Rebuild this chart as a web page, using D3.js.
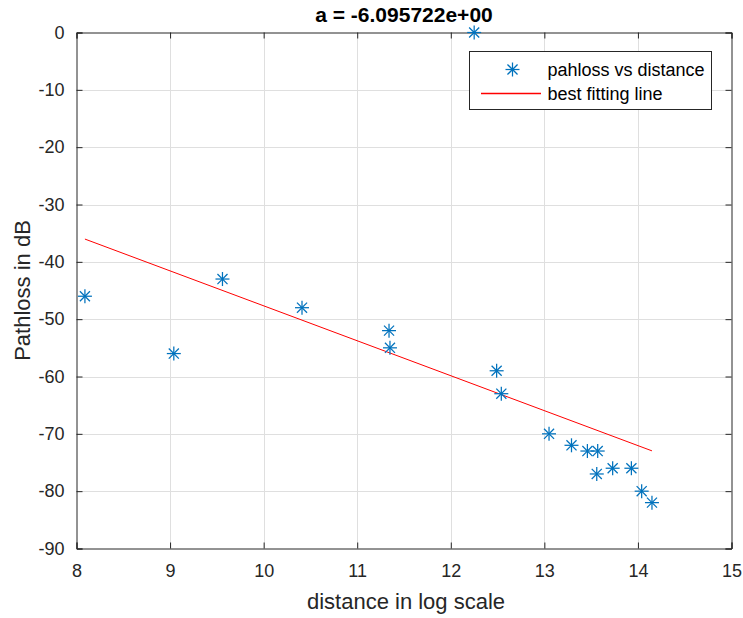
<!DOCTYPE html>
<html>
<head>
<meta charset="utf-8">
<script src="https://cdn.jsdelivr.net/npm/d3@7"></script>
<style>
  html, body { margin: 0; padding: 0; background: #ffffff; }
  svg { display: block; }
  text { font-family: "Liberation Sans", Arial, Helvetica, sans-serif; }
</style>
</head>
<body>
<svg id="chart" width="743" height="618"></svg>
<script>
// ---- data ----
const distance = [8.09, 9.04, 9.56, 10.41, 11.34, 11.35, 12.25, 12.49, 12.54, 13.05, 13.29, 13.46, 13.57, 13.56, 13.73, 13.93, 14.04, 14.15];
const pathloss = [-46, -56, -43, -48, -52, -55, 0, -59, -63, -70, -72, -73, -73, -77, -76, -76, -80, -82];
const slopeA = -6.095722;
const xTicks = [8, 9, 10, 11, 12, 13, 14, 15];
const yTicks = [0, -10, -20, -30, -40, -50, -60, -70, -80, -90];
const titleText = "a = -6.095722e+00";
const xLabel = "distance in log scale";
const yLabel = "Pathloss in dB";
const seriesNames = ["pahloss vs distance", "best fitting line"];

// intercept of the least-squares line with given slope (passes through means)
const meanX = d3.mean(distance), meanY = d3.mean(pathloss);
const interceptB = meanY - slopeA * meanX;
const fitX = [d3.min(distance), d3.max(distance)];
const fitY = fitX.map(x => slopeA * x + interceptB);

// ---- layout ----
const W = 743, H = 618;
const L = 76.5, R = 731.5, T = 32.5, B = 548.5;
const axisCol = "#262626", gridCol = "#dfdfdf", blue = "#0072BD", red = "#FF0000";

const svg = d3.select("#chart");
const x = d3.scaleLinear().domain([8, 15]).range([L, R]);
const y = d3.scaleLinear().domain([-90, 0]).range([B, T]);

// grid
const g = svg.append("g");
g.selectAll(".gx").data(xTicks.slice(1, -1)).join("line")
  .attr("x1", d => Math.round(x(d)) + 0.5).attr("x2", d => Math.round(x(d)) + 0.5)
  .attr("y1", T).attr("y2", B).attr("stroke", gridCol).attr("stroke-width", 1);
g.selectAll(".gy").data(yTicks.slice(1, -1)).join("line")
  .attr("y1", d => Math.round(y(d)) + 0.5).attr("y2", d => Math.round(y(d)) + 0.5)
  .attr("x1", L).attr("x2", R).attr("stroke", gridCol).attr("stroke-width", 1);

// axes (ticks inward, mirrored)
const tl = 6;
const axB = d3.axisBottom(x).tickValues(xTicks).tickSize(-tl).tickPadding(tl + 10).tickFormat(d3.format("d"));
const axL = d3.axisLeft(y).tickValues(yTicks).tickSize(-tl).tickPadding(tl + 6).tickFormat(d => d3.format("d")(d).replace("−", "-"));
const axT = d3.axisTop(x).tickValues(xTicks).tickSize(-tl).tickFormat("");
const axR = d3.axisRight(y).tickValues(yTicks).tickSize(-tl).tickFormat("");

function styleAxis(sel) {
  sel.select(".domain").attr("stroke", axisCol).attr("stroke-width", 1);
  sel.selectAll(".tick line").attr("stroke", axisCol).attr("stroke-width", 1);
  sel.selectAll(".tick text").attr("fill", axisCol).style("font-size", "18px")
    .style("font-family", "'Liberation Sans', Arial, sans-serif");
}
svg.append("g").attr("transform", `translate(0,${B})`).call(axB).call(styleAxis);
svg.append("g").attr("transform", `translate(${L},0)`).call(axL).call(styleAxis);
svg.append("g").attr("transform", `translate(0,${T})`).call(axT).call(styleAxis);
svg.append("g").attr("transform", `translate(${R},0)`).call(axR).call(styleAxis);

// fitted line
svg.append("path")
  .datum(fitX.map((d, i) => [d, fitY[i]]))
  .attr("d", d3.line().x(d => x(d[0])).y(d => y(d[1])))
  .attr("fill", "none").style("stroke", red).attr("stroke-width", 1);

// asterisk marker
function asterisk(sel, r) {
  const k = r * 0.72;
  sel.append("line").attr("x1", -r).attr("x2", r).attr("y1", 0).attr("y2", 0);
  sel.append("line").attr("x1", 0).attr("x2", 0).attr("y1", -r).attr("y2", r);
  sel.append("line").attr("x1", -k).attr("x2", k).attr("y1", -k).attr("y2", k);
  sel.append("line").attr("x1", -k).attr("x2", k).attr("y1", k).attr("y2", -k);
}
const pts = distance.map((d, i) => ({ x: d, y: pathloss[i] }));
svg.append("g").selectAll("g").data(pts).join("g")
  .attr("transform", d => `translate(${x(d.x)},${y(d.y)})`)
  .style("stroke", blue).attr("stroke-width", 1.25)
  .each(function () { asterisk(d3.select(this), 7); });

// title
svg.append("text").attr("x", (L + R) / 2 + 0).attr("y", 22)
  .attr("text-anchor", "middle").attr("fill", "#000")
  .style("font-size", "21px").style("font-weight", "bold").text(titleText);

// axis labels
svg.append("text").attr("x", (L + R) / 2 + 2).attr("y", 609)
  .attr("text-anchor", "middle").attr("fill", axisCol)
  .style("font-size", "22px").text(xLabel);
svg.append("text").attr("transform", `translate(30,${(T + B) / 2}) rotate(-90)`)
  .attr("text-anchor", "middle").attr("fill", axisCol)
  .style("font-size", "22px").text(yLabel);

// legend
const lg = svg.append("g");
lg.append("rect").attr("x", 469.5).attr("y", 51.5).attr("width", 242).attr("height", 58)
  .attr("fill", "#fff").style("stroke", axisCol).attr("stroke-width", 1);
const g1 = lg.append("g").attr("transform", "translate(512.5,69.5)")
  .style("stroke", blue).attr("stroke-width", 1.25);
asterisk(g1, 7);
lg.append("path").attr("d", "M481,93.5H541")
  .attr("fill", "none").style("stroke", red).attr("stroke-width", 1.5);
lg.selectAll("text.lt").data(seriesNames).join("text")
  .attr("x", 547.5).attr("y", (d, i) => 69.5 + i * 24.3).attr("dy", "0.35em")
  .attr("fill", "#000").style("font-size", "18px").text(d => d);
</script>
</body>
</html>
